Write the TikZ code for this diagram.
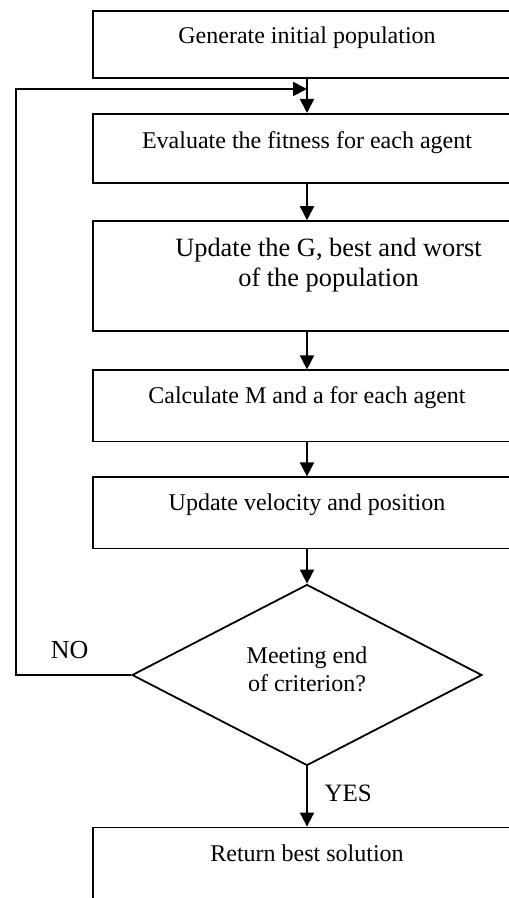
\documentclass[tikz,border=0pt]{standalone}
\usepackage{fontspec}
\setmainfont{Liberation Serif}
\usetikzlibrary{positioning,shapes.geometric,arrows.meta}

\begin{document}
\begin{tikzpicture}[stepbox/.style = {draw, minimum width=214pt, inner sep=0pt, text height=16.5pt, align=center}, decision/.style = {draw, diamond, aspect=1.94, minimum width=175pt, minimum height=90.5pt, inner sep=0pt, align=center}, node distance={17pt}, line width=0.9pt, >={Triangle[length=7pt,width=7pt]}, font=\fontsize{12pt}{13.7pt}\selectfont]
        \useasboundingbox (0,0) rectangle (254pt,-449pt);
        \node[stepbox, anchor=north, text depth=17.1pt] (init) at (153.5pt,-5pt) {Generate initial population};
        \node[stepbox, text height=17.3pt, text depth=17.3pt] (eval) [below=of init] {Evaluate the fitness for each agent};
        \node[stepbox, text height=32.5pt, text depth=22.6pt, font=\fontsize{13.2pt}{15pt}\selectfont] (best) [below=18.1pt of eval] {\hspace*{21.5pt}Update the G, best and worst\\\hspace*{21.5pt}of the population};
        \node[stepbox, text depth=19.1pt] (mass) [below=18.6pt of best] {Calculate M and a for each agent};
        \node[stepbox, text depth=19.1pt] (move) [below=of mass] {Update velocity and position};
        \node[decision, text depth=6pt] (check) [below=17.1pt of move] {Meeting end\\of criterion?};
        \node[stepbox, text height=17pt, text depth=25pt] (result) [below=30.1pt of check] {Return best solution};
        \coordinate (merge) at ([yshift=-5pt]init.south);
        \draw[->] (init) -- (eval);
        \draw[->] (eval) -- (best);
        \draw[->] (best) -- (mass);
        \draw[->] (mass) -- (move);
        \draw[->] (move) -- (check);
        \draw[->] (check) -- node[pos=0.45, right=5pt, font=\fontsize{12.5pt}{14pt}\selectfont] (yes) {YES} (result);
        \draw[->] (check.west) -- node[above=4.5pt, xshift=-2pt, font=\fontsize{13pt}{15pt}\selectfont] (no) {NO} ++(-57.5pt,0) |- (merge);
        \end{tikzpicture}
\end{document}
